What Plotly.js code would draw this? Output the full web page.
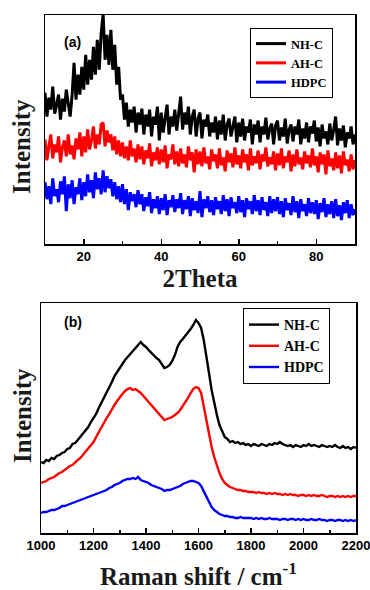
<!DOCTYPE html>
<html>
<head>
<meta charset="utf-8">
<script src="https://cdn.plot.ly/plotly-3.0.1.min.js"></script>
<style>html,body{margin:0;padding:0;background:#fff;}#chart{width:370px;height:590px;}</style>
</head>
<body>
<div id="chart"></div>
<script>
// ---------- Panel (a): XRD, 2Theta from 10 to 90 in steps of 0.5 ----------
const xrdStart = 10, xrdStep = 0.5;
const seriesNames = ["NH-C", "AH-C", "HDPC"];

const xrdNH = [152,128,147,135,158,131,140,150,125,146,
133,155,141,128,150,182,145,170,150,178,
155,190,160,185,165,198,170,205,175,212,
231,185,210,180,215,175,200,160,178,145,
150,125,142,118,135,122,138,112,132,120,
136,110,130,118,135,108,128,120,138,104,
132,112,126,140,110,128,118,135,114,130,
148,115,132,120,138,110,128,135,108,126,
132,106,125,118,130,108,122,112,128,105,
124,110,130,104,120,126,108,118,128,102,
122,108,126,104,118,112,125,100,120,110,
124,102,118,110,127,105,116,121,100,119,
124,104,117,108,126,101,115,120,103,118,
110,125,100,116,106,122,102,118,111,124,
103,117,98,120,106,113,100,121,104,115,
128,99,116,104,119,97,112,106,118,100,
110];

const xrdAH = [105,84,98,110,86,100,92,108,82,97,
104,88,110,90,99,85,106,95,112,88,
108,92,115,95,104,118,96,110,100,120,
122,98,114,102,110,94,108,90,104,88,
102,86,98,84,104,88,96,82,100,85,
98,80,94,86,101,78,92,84,97,80,
95,82,99,76,90,85,100,80,93,78,
96,81,90,77,98,84,92,72,95,80,
93,78,97,81,88,75,95,83,90,76,
96,79,87,73,94,82,91,77,97,80,
89,76,95,82,90,74,96,79,88,81,
94,75,90,83,97,78,87,80,93,74,
91,79,96,76,88,82,94,73,90,78,
95,80,87,75,93,81,89,77,96,79,
88,72,92,80,90,70,94,78,86,74,
92,76,89,71,93,79,85,73,90,75,
84];

const xrdHD = [62,45,58,40,66,48,55,42,63,50,
68,33,60,46,64,40,57,50,66,44,
62,48,70,52,64,46,72,55,66,50,
74,52,68,56,65,48,62,45,58,42,
60,40,55,34,52,43,50,37,54,40,
50,33,47,38,52,31,45,36,48,30,
46,34,50,29,44,37,49,32,45,36,
51,30,44,35,48,28,46,34,43,31,
53,27,45,36,48,32,44,29,47,35,
43,30,49,33,45,28,47,36,42,31,
48,32,44,27,46,35,43,30,49,33,
44,29,47,34,42,28,48,31,45,33,
47,30,43,27,46,34,41,29,48,32,
43,26,45,33,40,28,46,31,42,30,
44,25,41,32,46,27,40,30,43,26,
45,28,39,24,42,31,44,26,40,29,
35];

// ---------- Panel (b): Raman, 1000 to 2200 cm-1 in steps of 10 ----------
const ramanStart = 1000, ramanStep = 10;

const ramanNH = [71,70,73,72,75,74,77,78,80,81,
84,85,89,90,93,96,99,103,106,111,
115,119,125,130,135,140,146,151,157,161,
166,169,173,176,179,182,185,189,191,188,
186,183,180,178,175,173,169,165,166,168,
172,178,186,191,194,197,200,204,208,213,
210,205,193,178,160,143,130,118,108,101,
96,94,91,92,90,91,89,90,88,89,
87,89,88,87,89,88,87,89,88,90,
89,91,89,88,87,88,86,88,87,86,
88,87,89,87,88,87,86,88,87,86,
87,86,88,86,85,87,85,86,84,86,
85];

const ramanAH = [50,51,52,54,55,56,58,60,61,63,
65,67,68,71,73,75,78,81,84,88,
91,96,101,106,110,115,119,124,128,132,
136,139,142,144,145,143,144,142,140,137,
134,131,128,126,122,120,116,113,114,115,
116,118,120,123,127,130,135,140,144,146,
145,140,126,110,97,86,76,67,60,54,
50,48,46,45,44,43,43,42,42,41,
41,41,40,41,40,40,39,40,39,40,
39,39,38,39,38,39,38,38,37,38,
38,37,38,37,38,37,37,38,37,36,
37,37,36,37,36,37,36,37,36,37,
37];

const ramanHD = [20,21,21,22,23,23,24,25,27,27,
28,29,30,31,32,33,34,35,36,37,
38,39,40,41,42,43,45,46,48,49,
50,52,53,54,54,55,54,56,53,52,
51,50,48,47,46,45,44,42,43,43,
44,45,46,47,49,50,51,52,52,51,
50,47,42,37,31,26,23,21,19,18,
17,17,16,16,15,15,16,15,15,15,
15,14,15,14,15,14,14,15,14,14,
14,13,14,14,13,14,14,13,14,13,
14,13,13,14,13,13,14,13,13,12,
13,13,12,13,13,12,13,12,13,12,
13];

const xTicksA = [20, 40, 60, 80];
const xTicksB = [1000, 1200, 1400, 1600, 1800, 2000, 2200];
const colors = ["#000000", "#ff0000", "#0000ff"];

const xrdAngle = xrdNH.map((_, i) => xrdStart + xrdStep * i);
const ramanShift = ramanNH.map((_, i) => ramanStart + ramanStep * i);

const xrdSeries = [xrdNH, xrdAH, xrdHD];
const ramanSeries = [ramanNH, ramanAH, ramanHD];

const traces = [];
xrdSeries.forEach((ys, k) => traces.push({
  x: xrdAngle, y: ys, type: "scatter", mode: "lines", name: seriesNames[k],
  line: {color: colors[k], width: 3}, xaxis: "x", yaxis: "y", legend: "legend"
}));
ramanSeries.forEach((ys, k) => traces.push({
  x: ramanShift, y: ys, type: "scatter", mode: "lines", name: seriesNames[k],
  line: {color: colors[k], width: 2.4}, xaxis: "x2", yaxis: "y2", legend: "legend2"
}));

const serif = "Liberation Serif, Times New Roman, serif";
const sans = "Liberation Sans, Arial, sans-serif";
const tickFont = {family: sans, size: 13, color: "#000", weight: "bold"};
const titleFont = {family: serif, size: 25, color: "#1a1a1a", weight: "bold"};

const frame = {showline: true, linecolor: "#000", linewidth: 1.5, mirror: true, showgrid: false, zeroline: false};

const layout = {
  width: 370, height: 590,
  margin: {l: 0, r: 0, t: 0, b: 0},
  paper_bgcolor: "#fff", plot_bgcolor: "#fff",
  showlegend: true,
  xaxis: Object.assign({}, frame, {
    domain: [45/370, 355/370], anchor: "y", range: [10, 90],
    tickvals: xTicksA, ticks: "inside", ticklen: 5, tickwidth: 1.5, tickcolor: "#000",
    minor: {dtick: 10, ticks: "inside", ticklen: 3, tickcolor: "#000"},
    tickfont: tickFont,
    title: {text: "2Theta", font: titleFont, standoff: 6}
  }),
  yaxis: Object.assign({}, frame, {
    domain: [1 - 244/590, 1 - 15/590], anchor: "x", range: [0, 230],
    showticklabels: false, ticks: ""
  }),
  xaxis2: Object.assign({}, frame, {
    domain: [41/370, 356/370], anchor: "y2", range: [1000, 2200],
    tickvals: xTicksB, ticks: "inside", ticklen: 5, tickwidth: 1.5, tickcolor: "#000",
    minor: {dtick: 100, ticks: "inside", ticklen: 3, tickcolor: "#000"},
    tickfont: tickFont, ticklabeloverflow: "allow",
    title: {text: "Raman shift / cm<sup>-1</sup>", font: titleFont, standoff: 16}
  }),
  yaxis2: Object.assign({}, frame, {
    domain: [1 - 533/590, 1 - 303/590], anchor: "x2", range: [0, 230],
    showticklabels: false, ticks: ""
  }),
  legend: {
    x: 250/370, y: 1 - 28/590, xanchor: "left", yanchor: "top",
    bordercolor: "#000", borderwidth: 1, bgcolor: "#fff",
    font: {family: serif, size: 12.5, color: "#000", weight: "bold"},
    itemwidth: 30, tracegroupgap: 0
  },
  legend2: {
    x: 243/370, y: 1 - 308/590, xanchor: "left", yanchor: "top",
    bordercolor: "#000", borderwidth: 1, bgcolor: "#fff",
    font: {family: serif, size: 14, color: "#000", weight: "bold"},
    itemwidth: 30, tracegroupgap: 0
  },
  annotations: [
    {text: "Intensity", xref: "paper", yref: "paper", x: 22/370, y: 1 - 147/590,
     textangle: -90, showarrow: false, font: titleFont, xanchor: "center", yanchor: "middle"},
    {text: "Intensity", xref: "paper", yref: "paper", x: 22/370, y: 1 - 416/590,
     textangle: -90, showarrow: false, font: titleFont, xanchor: "center", yanchor: "middle"},
    {text: "(a)", xref: "paper", yref: "paper", x: 62/370, y: 1 - 32/590,
     showarrow: false, font: {family: sans, size: 14, color: "#000", weight: "bold"}},
    {text: "(b)", xref: "paper", yref: "paper", x: 62/370, y: 1 - 322/590,
     showarrow: false, font: {family: sans, size: 14, color: "#000", weight: "bold"}}
  ]
};

Plotly.newPlot("chart", traces, layout, {displayModeBar: false, staticPlot: true});
</script>
</body>
</html>
